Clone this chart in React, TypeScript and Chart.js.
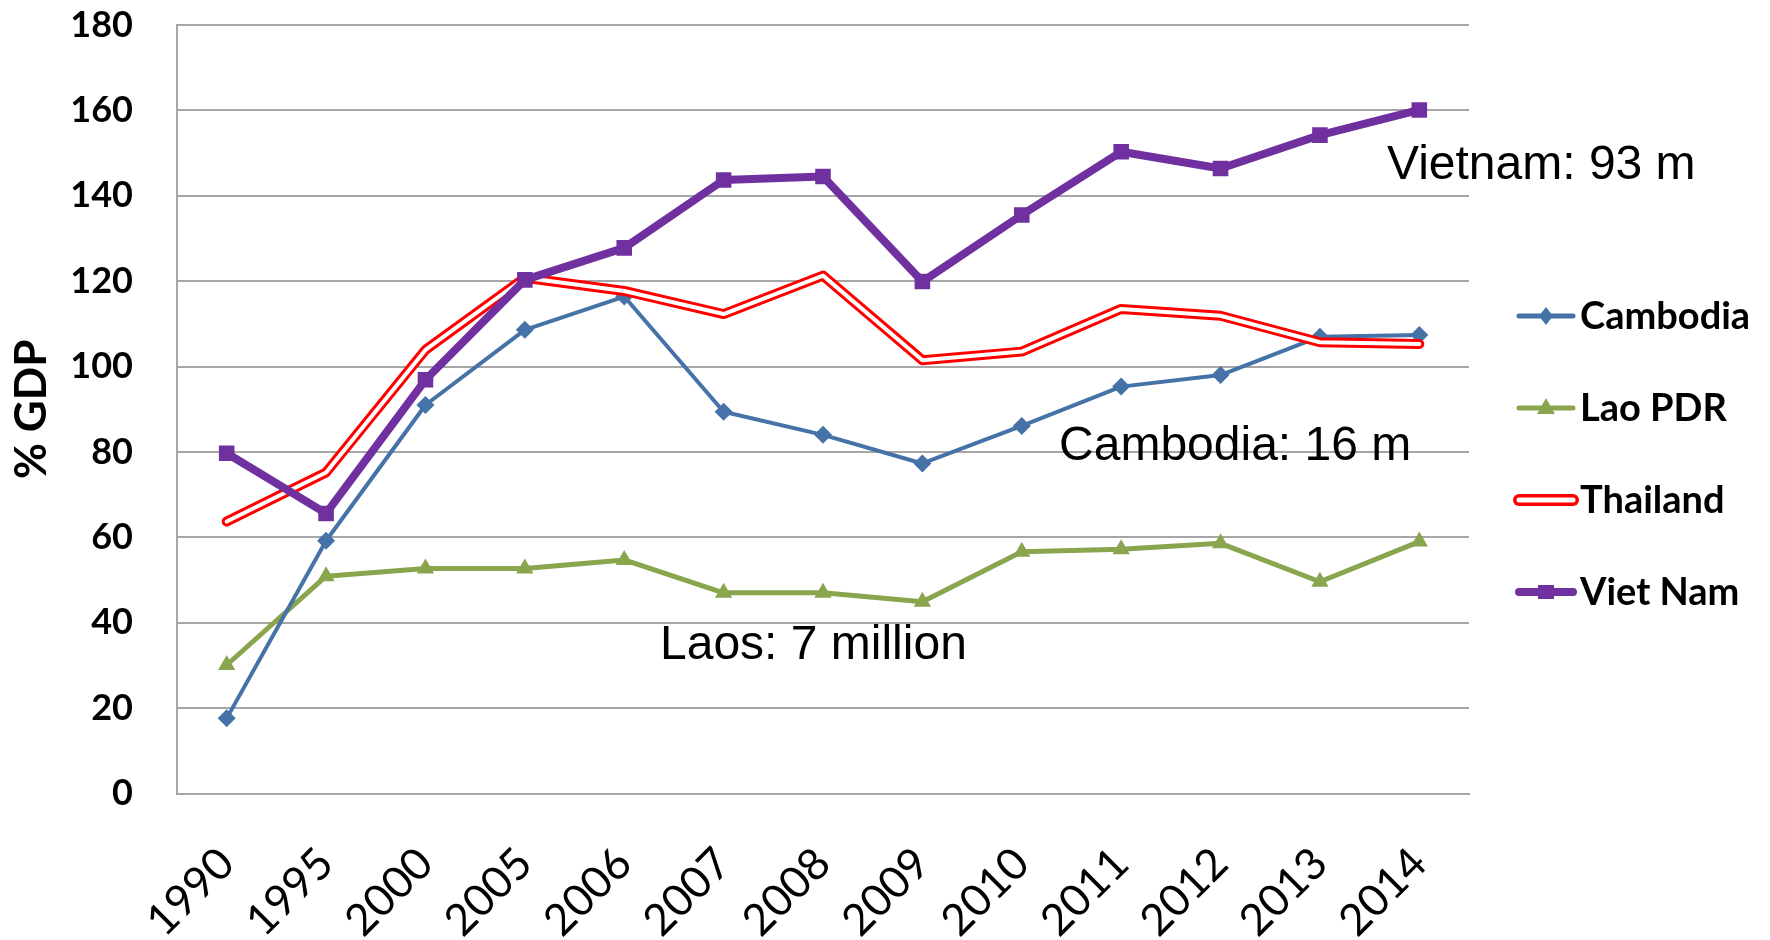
import React, { useEffect, useRef } from 'react';
import { Chart, registerables } from 'chart.js';

Chart.register(...registerables);

// Years on the category axis
const years = ['1990', '1995', '2000', '2005', '2006', '2007', '2008', '2009', '2010', '2011', '2012', '2013', '2014'];

// Series values, % of GDP
const cambodia = [17.6, 59.2, 91.0, 108.6, 116.4, 89.4, 84.0, 77.3, 86.1, 95.3, 98.0, 107.0, 107.4];
const laoPdr = [30.1, 50.9, 52.7, 52.7, 54.7, 47.0, 47.0, 44.9, 56.6, 57.2, 58.6, 49.6, 59.0];
const thailand = [63.7, 75.2, 103.9, 120.8, 117.7, 112.3, 121.3, 101.5, 103.5, 113.5, 111.9, 105.7, 105.3];
const vietNam = [79.7, 65.6, 96.9, 120.3, 127.8, 143.7, 144.5, 119.9, 135.5, 150.3, 146.4, 154.2, 160.1];

// Y axis range
const yMin = 0;
const yMax = 180;
const yStep = 20;

// Population notes placed in data space (category index, value at text baseline)
const noteTexts = ['Vietnam: 93 m', 'Cambodia: 16 m', 'Laos: 7 million'];
const noteIndex = [11.675, 8.375, 4.36];
const noteValue = [143.9, 78.1, 31.5];

// Legend entries
const legendNames = ['Cambodia', 'Lao PDR', 'Thailand', 'Viet Nam'];

const BLUE = '#4572A7';
const GREEN = '#89A54E';
const RED = '#FF0000';
const PURPLE = '#7030A0';
const GRID = '#a6a6a6';
const FONT = 'Lato, "Open Sans", sans-serif';

const notesPlugin = {
  id: 'populationNotes',
  afterDatasetsDraw(chart: any) {
    const { ctx, scales } = chart;
    ctx.save();
    ctx.font = '48px "Liberation Sans", Arial, sans-serif';
    ctx.fillStyle = '#000';
    ctx.textAlign = 'left';
    ctx.textBaseline = 'alphabetic';
    noteTexts.forEach((t, i) => {
      const x = scales.x.getPixelForValue(noteIndex[i]);
      const y = scales.y.getPixelForValue(noteValue[i]);
      ctx.fillText(t, x, y);
    });
    ctx.restore();
  },
};

function drawMarker(ctx: CanvasRenderingContext2D, kind: string, x: number, y: number) {
  ctx.beginPath();
  if (kind === 'diamond') {
    ctx.fillStyle = BLUE;
    ctx.moveTo(x, y - 9);
    ctx.lineTo(x + 7, y);
    ctx.lineTo(x, y + 9);
    ctx.lineTo(x - 7, y);
    ctx.closePath();
    ctx.fill();
  } else if (kind === 'triangle') {
    ctx.fillStyle = GREEN;
    ctx.moveTo(x, y - 10);
    ctx.lineTo(x + 9, y + 6);
    ctx.lineTo(x - 9, y + 6);
    ctx.closePath();
    ctx.fill();
  } else if (kind === 'square') {
    ctx.fillStyle = PURPLE;
    ctx.rect(x - 8, y - 7, 16, 14);
    ctx.fill();
  }
}

const legendPlugin = {
  id: 'sideLegend',
  afterDraw(chart: any) {
    const { ctx } = chart;
    const x0 = 1519;
    const x1 = 1573;
    const textX = 1580;
    const rows = [316, 408, 500, 592];
    const seg = (color: string, width: number, y: number) => {
      ctx.strokeStyle = color;
      ctx.lineWidth = width;
      ctx.beginPath();
      ctx.moveTo(x0, y);
      ctx.lineTo(x1, y);
      ctx.stroke();
    };
    ctx.save();
    ctx.lineCap = 'round';
    seg(BLUE, 5, rows[0]);
    drawMarker(ctx, 'diamond', (x0 + x1) / 2, rows[0]);
    seg(GREEN, 5, rows[1]);
    drawMarker(ctx, 'triangle', (x0 + x1) / 2, rows[1]);
    // Thailand: red outline with white core
    seg(RED, 12, rows[2]);
    seg('#ffffff', 5, rows[2]);
    seg(PURPLE, 8, rows[3]);
    drawMarker(ctx, 'square', (x0 + x1) / 2, rows[3]);

    ctx.font = `bold 38px ${FONT}`;
    ctx.fillStyle = '#000';
    ctx.textAlign = 'left';
    ctx.textBaseline = 'middle';
    legendNames.forEach((n, i) => ctx.fillText(n, textX, rows[i] + 1));
    ctx.restore();
  },
};

export default function App() {
  const canvasRef = useRef<HTMLCanvasElement | null>(null);

  useEffect(() => {
    if (!canvasRef.current) return;
    const chart = new Chart(canvasRef.current, {
      type: 'line',
      data: {
        labels: years,
        datasets: [
          {
            label: 'Viet Nam',
            data: vietNam,
            borderColor: PURPLE,
            backgroundColor: PURPLE,
            borderWidth: 8,
            pointStyle: 'rect',
            pointRadius: 11,
            pointBorderWidth: 0,
            order: 0,
          },
          {
            label: 'Thailand core',
            data: thailand,
            borderColor: '#ffffff',
            backgroundColor: '#ffffff',
            borderWidth: 4,
            pointRadius: 0,
            order: 1,
          },
          {
            label: 'Thailand',
            data: thailand,
            borderColor: RED,
            backgroundColor: RED,
            borderWidth: 10,
            pointRadius: 0,
            order: 2,
          },
          {
            label: 'Cambodia',
            data: cambodia,
            borderColor: BLUE,
            backgroundColor: BLUE,
            borderWidth: 4,
            pointStyle: 'rectRot',
            pointRadius: 9,
            pointBorderWidth: 0,
            order: 3,
          },
          {
            label: 'Lao PDR',
            data: laoPdr,
            borderColor: GREEN,
            backgroundColor: GREEN,
            borderWidth: 5,
            pointStyle: 'triangle',
            pointRadius: 10,
            pointBorderWidth: 0,
            order: 4,
          },
        ],
      },
      options: {
        responsive: false,
        animation: false,
        devicePixelRatio: 1,
        layout: { padding: { top: 25, right: 301, bottom: 0, left: 0 } },
        elements: {
          line: { tension: 0, borderJoinStyle: 'round', borderCapStyle: 'round', fill: false },
        },
        plugins: {
          legend: { display: false },
          tooltip: { enabled: false },
        },
        scales: {
          x: {
            offset: true,
            grid: { display: false, drawTicks: false },
            border: { display: true, color: GRID, width: 2 },
            ticks: {
              autoSkip: false,
              minRotation: 45,
              maxRotation: 45,
              padding: 44,
              labelOffset: 0,
              color: '#000',
              font: { family: FONT, size: 44 },
            },
            afterFit(scale: any) {
              scale.height = 146.5;
            },
          },
          y: {
            min: yMin,
            max: yMax,
            grid: { color: GRID, lineWidth: 2, drawTicks: false },
            border: { display: true, color: GRID, width: 2 },
            ticks: {
              stepSize: yStep,
              padding: 44,
              color: '#000',
              font: { family: FONT, size: 36, weight: 'bold' },
            },
            title: {
              display: true,
              text: '% GDP',
              color: '#000',
              padding: { top: 5, bottom: 0 },
              font: { family: FONT, size: 44, weight: 'bold' },
            },
            afterFit(scale: any) {
              scale.width = 177;
              scale.paddingTop = 20;
              scale.paddingBottom = 20;
            },
          },
        },
      },
      plugins: [notesPlugin, legendPlugin],
    } as any);
    return () => chart.destroy();
  }, []);

  return (
    <div style={{ position: 'fixed', left: 0, top: 0, width: 1770, height: 940, background: '#fff' }}>
      <canvas ref={canvasRef} width={1770} height={940} />
    </div>
  );
}
